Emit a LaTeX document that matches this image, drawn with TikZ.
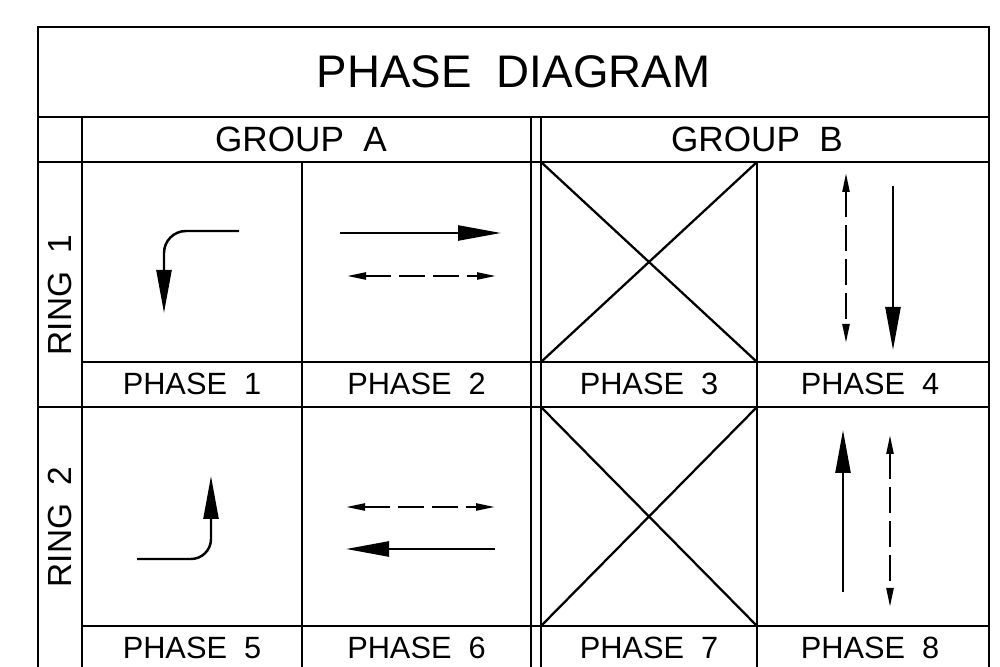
\documentclass[tikz,border=0pt]{standalone}
\usepackage{fontspec}
\setmainfont{Liberation Sans}[WordSpace=2]
\usetikzlibrary{arrows.meta}

\begin{document}
\begin{tikzpicture}[
    gridline/.style={line width=1.6pt},
    crossline/.style={line width=1.3pt},
    bigarrow/.style={line width=1.4pt, -{Triangle[length=0.86cm,width=0.30cm]}},
    dasharrow/.style={line width=1.3pt, dash pattern=on 0.52cm off 0.16cm,
        {Triangle[length=0.38cm,width=0.14cm]}-{Triangle[length=0.38cm,width=0.14cm]}},
    lbl/.style={font=\fontsize{17.5}{20}\selectfont, inner sep=0pt}]

\useasboundingbox (0,0) rectangle (20,13.34);

% ── Column x-values (cm) ─────────────────────────────────────
\def\xL{0.76}   % outer left
\def\xR{1.64}   % ring column
\def\xa{6.04}   % phase 1 | phase 2
\def\xb{10.62}  % double line, left
\def\xc{10.82}  % double line, right
\def\xd{15.14}  % phase 3 | phase 4
\def\xE{19.78}  % outer right

% ── Row y-values (cm) ────────────────────────────────────────
\def\yT{12.80}  % top
\def\yA{11.00}  % title bottom
\def\yB{10.10}  % group row bottom
\def\yC{6.10}   % ring 1 phase row top
\def\yD{5.20}   % ring 1 bottom
\def\yE{0.82}   % ring 2 phase row top

% ── Frame and grid ───────────────────────────────────────────
\draw[gridline] (\xL,0) -- (\xL,\yT) -- (\xE,\yT) -- (\xE,0);
\draw[gridline] (\xL,\yA) -- (\xE,\yA);
\draw[gridline] (\xL,\yB) -- (\xE,\yB);
\draw[gridline] (\xR,\yC) -- (\xE,\yC);
\draw[gridline] (\xL,\yD) -- (\xE,\yD);
\draw[gridline] (\xR,\yE) -- (\xE,\yE);

\draw[gridline] (\xR,\yA) -- (\xR,0);
\draw[gridline] (\xa,\yB) -- (\xa,0);
\draw[gridline] (\xb,\yA) -- (\xb,0);
\draw[gridline] (\xc,\yA) -- (\xc,0);
\draw[gridline] (\xd,\yB) -- (\xd,0);

% ── Headers ──────────────────────────────────────────────────
\node[inner sep=0pt, font=\fontsize{26}{30}\selectfont] (title) at (10.27,11.90) {PHASE DIAGRAM};
\node[lbl, font=\fontsize{20}{22}\selectfont] (grpA) at (6.02,10.55) {GROUP A};
\node[lbl, font=\fontsize{20}{22}\selectfont] (grpB) at (15.14,10.55) {GROUP B};

\node[lbl, rotate=90, font=\fontsize{19}{21}\selectfont] (ring1) at (1.20,7.44) {RING 1};
\node[lbl, rotate=90, font=\fontsize{19}{21}\selectfont] (ring2) at (1.20,2.80) {RING 2};

% ── Phase labels ─────────────────────────────────────────────
\foreach \px/\py/\n in {
    3.84/5.66/1, 8.33/5.66/2, 12.98/5.66/3, 17.40/5.66/4,
    3.84/0.38/5, 8.33/0.38/6, 12.98/0.38/7, 17.40/0.38/8} {
    \node[lbl] (ph\n) at (\px,\py) {PHASE \n};
}

% ── Crossed-out cells (phase 3 and 7) ────────────────────────
\draw[crossline] (\xc,\yB) -- (\xd,\yC);
\draw[crossline] (\xc,\yC) -- (\xd,\yB);
\draw[crossline] (\xc,\yD) -- (\xd,\yE);
\draw[crossline] (\xc,\yE) -- (\xd,\yD);

% ── Movement arrows ──────────────────────────────────────────
% phase 1: left turn, down
\draw[bigarrow, rounded corners=0.44cm] (4.78,8.72) -| (3.28,7.08);
% phase 2: through east, dashed ped
\draw[bigarrow] (6.80,8.68) -- (10.02,8.68);
\draw[dasharrow] (6.94,7.82) -- (9.92,7.82);
% phase 4: dashed ped, through south
\draw[dasharrow] (16.92,9.88) -- (16.92,6.48);
\draw[bigarrow] (17.86,9.62) -- (17.86,6.34);
% phase 5: left turn, up
\draw[bigarrow, rounded corners=0.40cm] (2.74,2.16) -| (4.22,3.82);
% phase 6: dashed ped, through west
\draw[dasharrow] (6.92,3.20) -- (9.90,3.20);
\draw[bigarrow] (9.90,2.36) -- (6.92,2.36);
% phase 8: through north, dashed ped
\draw[bigarrow] (16.86,1.50) -- (16.86,4.74);
\draw[dasharrow] (17.80,4.64) -- (17.80,1.20);

\end{tikzpicture}
\end{document}
